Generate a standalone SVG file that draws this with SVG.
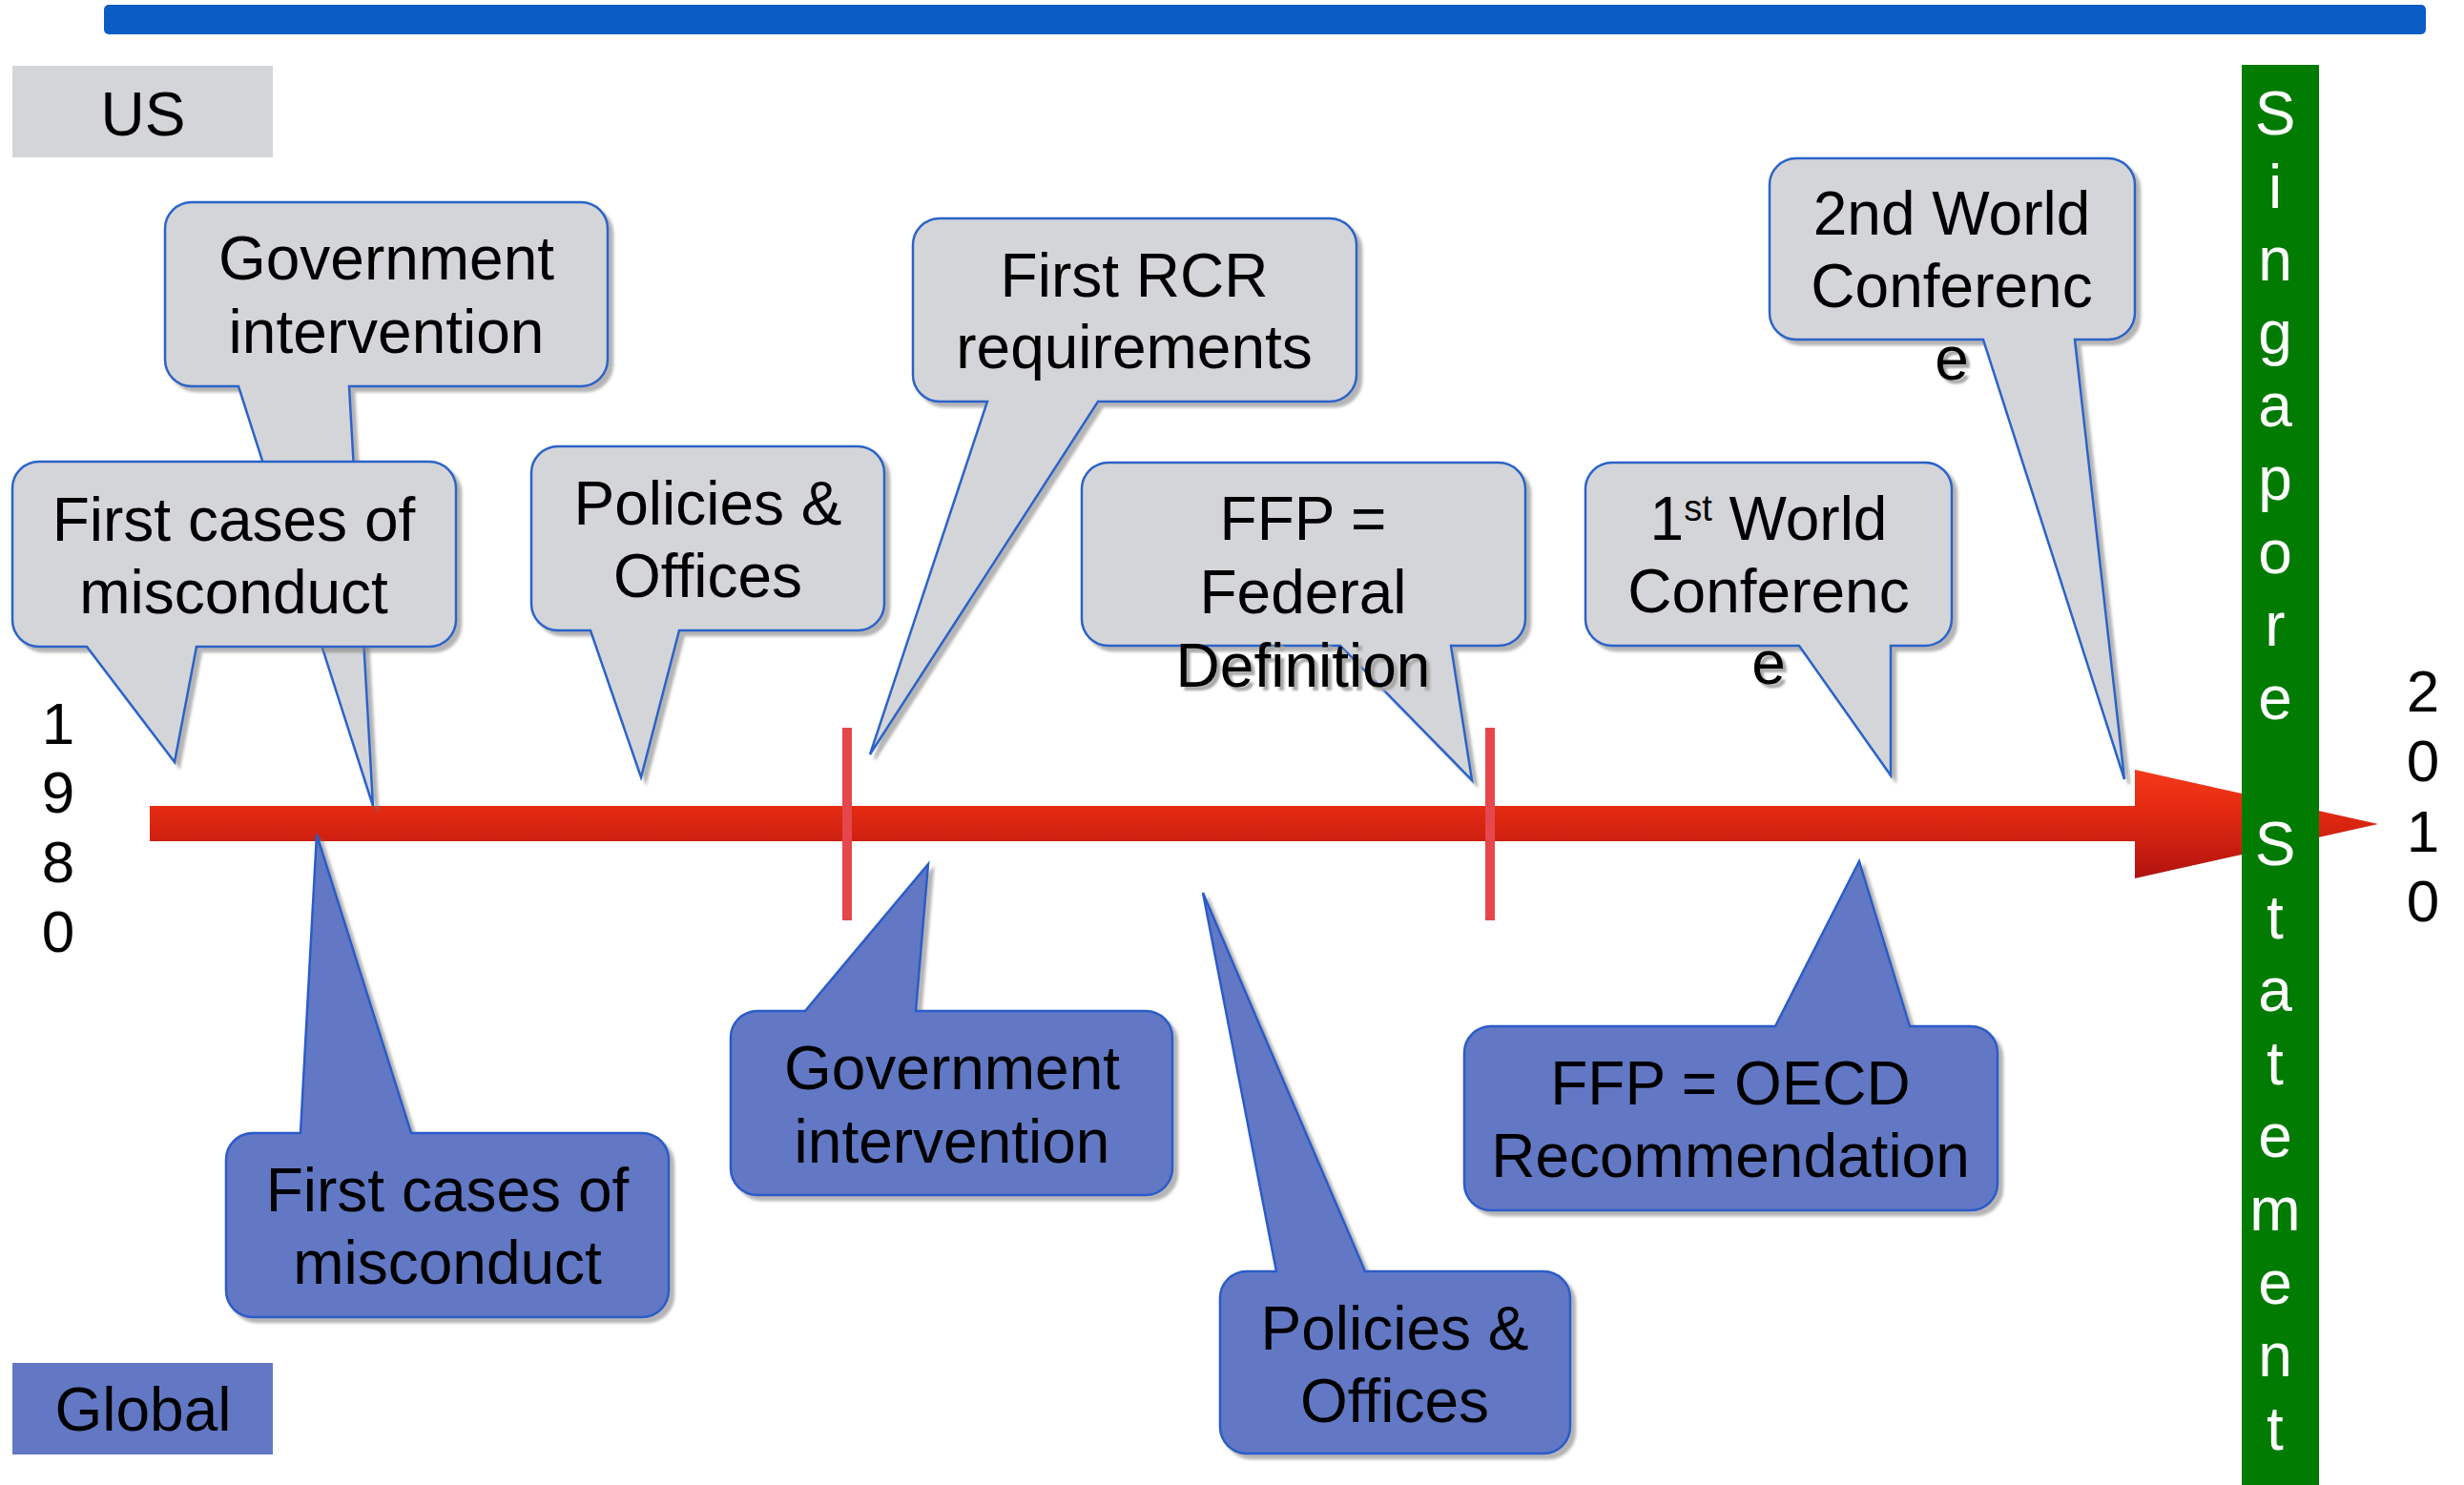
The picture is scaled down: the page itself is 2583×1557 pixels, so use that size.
<svg xmlns="http://www.w3.org/2000/svg" width="2583" height="1557" viewBox="0 0 2583 1557">
<defs>
<style>
text{font-family:"Liberation Sans",Arial,sans-serif;fill:#000}
.t{font-size:64px;text-anchor:middle}
.yr{font-size:62px;text-anchor:middle}
.us path{fill:#d4d5d8;stroke:#2c64c8;stroke-width:2.5;stroke-linejoin:miter}
.gl path{fill:#6278c4;stroke:#2a5cc8;stroke-width:2.5;stroke-linejoin:miter}
.cal{filter:url(#sh)}
.ts{fill:#a8a8a8}
.sg{font-size:64px;text-anchor:middle;fill:#fff}
.tick{fill:#e5474c}
</style>
<filter id="sh" x="-10%" y="-10%" width="130%" height="130%">
<feDropShadow dx="5" dy="5" stdDeviation="1.5" flood-color="#777" flood-opacity="0.55"/>
</filter>
<filter id="tsh" x="-5%" y="-20%" width="115%" height="150%">
<feGaussianBlur stdDeviation="1.2"/>
</filter>
<linearGradient id="rg" x1="0" y1="807" x2="0" y2="921" gradientUnits="userSpaceOnUse">
<stop offset="0" stop-color="#f5391a"/>
<stop offset="0.33" stop-color="#e62b12"/>
<stop offset="0.66" stop-color="#cd2010"/>
<stop offset="1" stop-color="#b01210"/>
</linearGradient>
</defs>
<rect width="2583" height="1557" fill="#fff"/>

<rect id="topbar" x="109" y="5" width="2434" height="31" rx="5" fill="#0b5cc4"/>

<g id="timeline">
<path d="M157,845 H2238 V807 L2493,864 L2238,921 V882 H157 Z" fill="url(#rg)"/>
<rect class="tick" x="883" y="763" width="10" height="202"/>
<rect class="tick" x="1557" y="763" width="10" height="202"/>
</g>

<g id="singapore">
<rect x="2350" y="68" width="81" height="1489" fill="#027b02"/>
<text class="sg"><tspan x="2385" y="141">S</tspan><tspan x="2385" y="217.6">i</tspan><tspan x="2385" y="294.2">n</tspan><tspan x="2385" y="370.8">g</tspan><tspan x="2385" y="447.4">a</tspan><tspan x="2385" y="524">p</tspan><tspan x="2385" y="600.6">o</tspan><tspan x="2385" y="677.2">r</tspan><tspan x="2385" y="753.8">e</tspan><tspan x="2385" y="907">S</tspan><tspan x="2385" y="983.6">t</tspan><tspan x="2385" y="1060.2">a</tspan><tspan x="2385" y="1136.8">t</tspan><tspan x="2385" y="1213.4">e</tspan><tspan x="2385" y="1290">m</tspan><tspan x="2385" y="1366.6">e</tspan><tspan x="2385" y="1443.2">n</tspan><tspan x="2385" y="1519.8">t</tspan></text>
</g>

<g id="year1980"><text class="yr"><tspan x="61" y="780">1</tspan><tspan x="61" y="852">9</tspan><tspan x="61" y="925">8</tspan><tspan x="61" y="998">0</tspan></text></g>
<g id="year2010"><text class="yr"><tspan x="2540" y="746">2</tspan><tspan x="2540" y="819">0</tspan><tspan x="2540" y="893">1</tspan><tspan x="2540" y="966">0</tspan></text></g>

<g id="label-us"><rect x="13" y="69" width="273" height="96" fill="#d4d5d8"/><text class="t" x="150" y="142">US</text></g>
<g id="label-global"><rect x="13" y="1429" width="273" height="96" fill="#6278c4"/><text class="t" x="150" y="1500">Global</text></g>

<!-- US callouts -->
<g id="us-gov" class="us">
<path class="cal" d="M201,212 H609 A28,28 0 0 1 637,240 V377 A28,28 0 0 1 609,405 H366 L391,845 L250,405 H201 A28,28 0 0 1 173,377 V240 A28,28 0 0 1 201,212 Z"/>
<text class="t" x="405" y="293">Government</text><text class="t" x="405" y="370">intervention</text>
</g>
<g id="us-cases" class="us">
<path class="cal" d="M41,484 H450 A28,28 0 0 1 478,512 V650 A28,28 0 0 1 450,678 H206 L183,799 L91,678 H41 A28,28 0 0 1 13,650 V512 A28,28 0 0 1 41,484 Z"/>
<text class="t" x="245" y="567">First cases of</text><text class="t" x="245" y="643">misconduct</text>
</g>
<g id="us-policies" class="us">
<path class="cal" d="M585,468 H899 A28,28 0 0 1 927,496 V633 A28,28 0 0 1 899,661 H712 L672,815 L619,661 H585 A28,28 0 0 1 557,633 V496 A28,28 0 0 1 585,468 Z"/>
<text class="t" x="742" y="550">Policies &amp;</text><text class="t" x="742" y="626">Offices</text>
</g>
<g id="us-rcr" class="us">
<path class="cal" d="M985,229 H1394 A28,28 0 0 1 1422,257 V393 A28,28 0 0 1 1394,421 H1151 L912,791 L1035,421 H985 A28,28 0 0 1 957,393 V257 A28,28 0 0 1 985,229 Z"/>
<text class="t" x="1189" y="311">First RCR</text><text class="t" x="1189" y="386">requirements</text>
</g>
<g id="us-ffp" class="us">
<path class="cal" d="M1162,485 H1571 A28,28 0 0 1 1599,513 V649 A28,28 0 0 1 1571,677 H1521 L1543,818 L1405,677 H1162 A28,28 0 0 1 1134,649 V513 A28,28 0 0 1 1162,485 Z"/>
<text class="t" x="1366" y="566">FFP =</text><text class="t" x="1366" y="643">Federal</text>
<text class="t ts" x="1370" y="724" filter="url(#tsh)">Definition</text>
<text class="t" x="1366" y="720">Definition</text>
</g>
<g id="us-world1" class="us">
<path class="cal" d="M1690,485 H2018 A28,28 0 0 1 2046,513 V649 A28,28 0 0 1 2018,677 H1982 L1982,813 L1886,677 H1690 A28,28 0 0 1 1662,649 V513 A28,28 0 0 1 1690,485 Z"/>
<text class="t" x="1854" y="566">1<tspan font-size="38" dy="-20">st</tspan><tspan dy="20"> World</tspan></text>
<text class="t" x="1854" y="642">Conferenc</text>
<text class="t ts" x="1858" y="721" filter="url(#tsh)">e</text>
<text class="t" x="1854" y="717">e</text>
</g>
<g id="us-world2" class="us">
<path class="cal" d="M1883,166 H2210 A28,28 0 0 1 2238,194 V328 A28,28 0 0 1 2210,356 H2175 L2227,817 L2079,356 H1883 A28,28 0 0 1 1855,328 V194 A28,28 0 0 1 1883,166 Z"/>
<text class="t" x="2046" y="246">2nd World</text><text class="t" x="2046" y="322">Conferenc</text>
<text class="t ts" x="2050" y="402" filter="url(#tsh)">e</text>
<text class="t" x="2046" y="398">e</text>
</g>

<!-- Global callouts -->
<g id="gl-cases" class="gl">
<path class="cal" d="M265,1188 H315 L332,875 L431,1188 H673 A28,28 0 0 1 701,1216 V1353 A28,28 0 0 1 673,1381 H265 A28,28 0 0 1 237,1353 V1216 A28,28 0 0 1 265,1188 Z"/>
<text class="t" x="469" y="1270">First cases of</text><text class="t" x="469" y="1346">misconduct</text>
</g>
<g id="gl-gov" class="gl">
<path class="cal" d="M794,1060 H844 L973,906 L960,1060 H1201 A28,28 0 0 1 1229,1088 V1225 A28,28 0 0 1 1201,1253 H794 A28,28 0 0 1 766,1225 V1088 A28,28 0 0 1 794,1060 Z"/>
<text class="t" x="998" y="1142">Government</text><text class="t" x="998" y="1219">intervention</text>
</g>
<g id="gl-policies" class="gl">
<path class="cal" d="M1307,1333 H1338 L1261,936 L1431,1333 H1618 A28,28 0 0 1 1646,1361 V1496 A28,28 0 0 1 1618,1524 H1307 A28,28 0 0 1 1279,1496 V1361 A28,28 0 0 1 1307,1333 Z"/>
<text class="t" x="1462" y="1415">Policies &amp;</text><text class="t" x="1462" y="1491">Offices</text>
</g>
<g id="gl-oecd" class="gl">
<path class="cal" d="M1563,1076 H1861 L1949,903 L2002,1076 H2066 A28,28 0 0 1 2094,1104 V1241 A28,28 0 0 1 2066,1269 H1563 A28,28 0 0 1 1535,1241 V1104 A28,28 0 0 1 1563,1076 Z"/>
<text class="t" x="1814" y="1158">FFP = OECD</text><text class="t" x="1814" y="1234">Recommendation</text>
</g>
</svg>
